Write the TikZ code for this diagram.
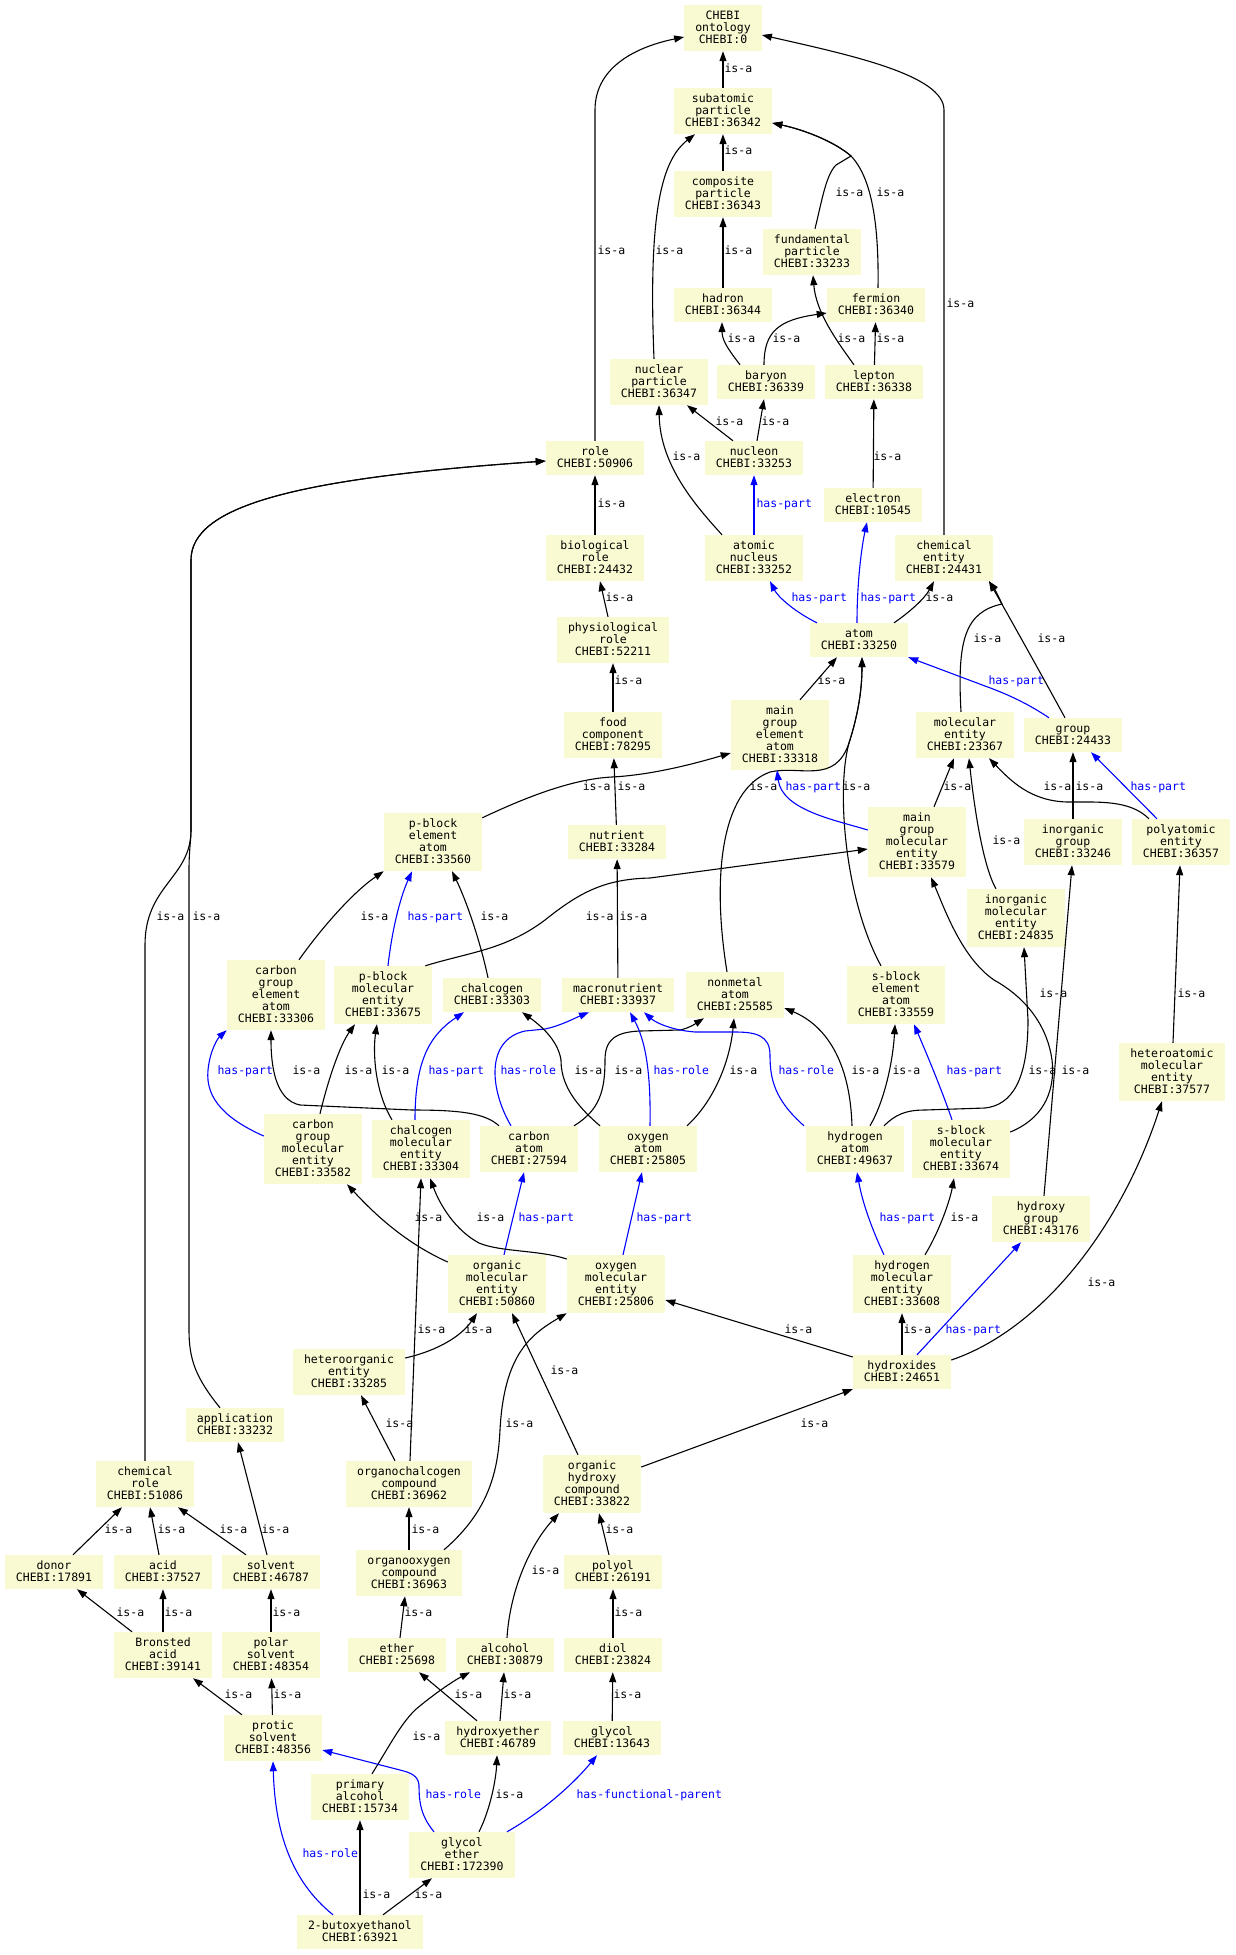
\documentclass[tikz,border=0pt]{standalone}
\usepackage{fontspec}
\setmonofont{DejaVu Sans Mono}
\usetikzlibrary{arrows.meta}
\definecolor{boxfill}{RGB}{250,250,210}
\definecolor{relblue}{RGB}{0,0,255}
% keeps every box 12pt per line, whatever the letters
\newcommand{\lnstrut}{\rule[-3pt]{0pt}{12pt}}
\newcommand{\ent}[1]{\lnstrut#1\lnstrut}

\begin{document}
\begin{tikzpicture}[
    x=1pt, y=-1pt,
    box/.style={fill=boxfill, inner xsep=11pt, inner ysep=5pt, align=center, font=\ttfamily\fontsize{11.5}{12}\selectfont},
    arr/.style={-{Triangle[length=10pt,width=7pt]}, line width=1.1pt},
    barr/.style={arr, draw=relblue},
    lab/.style={font=\ttfamily\fontsize{11.5}{12}\selectfont, inner sep=0pt, anchor=west, text height=7pt, text depth=1pt},
    blab/.style={lab, text=relblue}
]
\useasboundingbox (0,0) rectangle (1236,1955);

% particles
\node[box] (ontology) at (723,28) {\ent{CHEBI\\ontology\\CHEBI:0}};
\node[box] (subatomic) at (723,111) {\ent{subatomic\\particle\\CHEBI:36342}};
\node[box] (composite) at (723,194) {\ent{composite\\particle\\CHEBI:36343}};
\node[box] (fundamental) at (812,252) {\ent{fundamental\\particle\\CHEBI:33233}};
\node[box] (hadron) at (723,305) {\ent{hadron\\CHEBI:36344}};
\node[box] (fermion) at (876,305) {\ent{fermion\\CHEBI:36340}};
\node[box] (nuclearpart) at (659,382) {\ent{nuclear\\particle\\CHEBI:36347}};
\node[box] (baryon) at (766,382) {\ent{baryon\\CHEBI:36339}};
\node[box] (lepton) at (874,382) {\ent{lepton\\CHEBI:36338}};
\node[box] (role) at (595,458) {\ent{role\\CHEBI:50906}};
\node[box] (nucleon) at (754,458) {\ent{nucleon\\CHEBI:33253}};
\node[box] (electron) at (873,505) {\ent{electron\\CHEBI:10545}};
\node[box] (biorole) at (595,558) {\ent{biological\\role\\CHEBI:24432}};
\node[box] (nucleus) at (754,558) {\ent{atomic\\nucleus\\CHEBI:33252}};
\node[box] (chementity) at (944,558) {\ent{chemical\\entity\\CHEBI:24431}};
\node[box] (physrole) at (613,640) {\ent{physiological\\role\\CHEBI:52211}};
\node[box] (atom) at (859,640) {\ent{atom\\CHEBI:33250}};
\node[box] (foodcomp) at (613,735) {\ent{food\\component\\CHEBI:78295}};
\node[box] (mgatom) at (780,735) {\ent{main\\group\\element\\atom\\CHEBI:33318}};
\node[box] (molentity) at (965,735) {\ent{molecular\\entity\\CHEBI:23367}};
\node[box] (group) at (1073,735) {\ent{group\\CHEBI:24433}};

% entities
\node[box] (pblockatom) at (433,842) {\ent{p-block\\element\\atom\\CHEBI:33560}};
\node[box] (nutrient) at (617,842) {\ent{nutrient\\CHEBI:33284}};
\node[box] (mgmol) at (917,842) {\ent{main\\group\\molecular\\entity\\CHEBI:33579}};
\node[box] (inorggroup) at (1073,842) {\ent{inorganic\\group\\CHEBI:33246}};
\node[box] (polyatomic) at (1181,842) {\ent{polyatomic\\entity\\CHEBI:36357}};
\node[box] (inorgmol) at (1016,918) {\ent{inorganic\\molecular\\entity\\CHEBI:24835}};
\node[box] (cgatom) at (276,995) {\ent{carbon\\group\\element\\atom\\CHEBI:33306}};
\node[box] (pblockmol) at (383,995) {\ent{p-block\\molecular\\entity\\CHEBI:33675}};
\node[box] (chalcogen) at (492,995) {\ent{chalcogen\\CHEBI:33303}};
\node[box] (macronut) at (618,995) {\ent{macronutrient\\CHEBI:33937}};
\node[box] (nonmetal) at (735,995) {\ent{nonmetal\\atom\\CHEBI:25585}};
\node[box] (sblockatom) at (896,995) {\ent{s-block\\element\\atom\\CHEBI:33559}};
\node[box] (heteroatomic) at (1172,1072) {\ent{heteroatomic\\molecular\\entity\\CHEBI:37577}};
\node[box] (cgmol) at (313,1149) {\ent{carbon\\group\\molecular\\entity\\CHEBI:33582}};
\node[box] (chalcmol) at (421,1149) {\ent{chalcogen\\molecular\\entity\\CHEBI:33304}};
\node[box] (catom) at (529,1149) {\ent{carbon\\atom\\CHEBI:27594}};
\node[box] (oatom) at (648,1149) {\ent{oxygen\\atom\\CHEBI:25805}};
\node[box] (hatom) at (855,1149) {\ent{hydrogen\\atom\\CHEBI:49637}};
\node[box] (sblockmol) at (961,1149) {\ent{s-block\\molecular\\entity\\CHEBI:33674}};
\node[box] (hydroxygrp) at (1041,1219) {\ent{hydroxy\\group\\CHEBI:43176}};
\node[box] (orgmol) at (497,1284) {\ent{organic\\molecular\\entity\\CHEBI:50860}};
\node[box] (oxmol) at (616,1284) {\ent{oxygen\\molecular\\entity\\CHEBI:25806}};
\node[box] (hmol) at (902,1284) {\ent{hydrogen\\molecular\\entity\\CHEBI:33608}};
\node[box] (heteroorg) at (349,1372) {\ent{heteroorganic\\entity\\CHEBI:33285}};
\node[box] (hydroxides) at (902,1372) {\ent{hydroxides\\CHEBI:24651}};

% roles and compounds
\node[box] (application) at (235,1425) {\ent{application\\CHEBI:33232}};
\node[box] (chemrole) at (145,1484) {\ent{chemical\\role\\CHEBI:51086}};
\node[box] (orgchalc) at (409,1484) {\ent{organochalcogen\\compound\\CHEBI:36962}};
\node[box] (orghydroxy) at (592,1484) {\ent{organic\\hydroxy\\compound\\CHEBI:33822}};
\node[box] (donor) at (54,1572) {\ent{donor\\CHEBI:17891}};
\node[box] (acid) at (163,1572) {\ent{acid\\CHEBI:37527}};
\node[box] (solvent) at (271,1572) {\ent{solvent\\CHEBI:46787}};
\node[box] (orgoxy) at (409,1573) {\ent{organooxygen\\compound\\CHEBI:36963}};
\node[box] (polyol) at (613,1572) {\ent{polyol\\CHEBI:26191}};
\node[box] (bronsted) at (163,1655) {\ent{Bronsted\\acid\\CHEBI:39141}};
\node[box] (polarsolv) at (271,1655) {\ent{polar\\solvent\\CHEBI:48354}};
\node[box] (ether) at (397,1655) {\ent{ether\\CHEBI:25698}};
\node[box] (alcohol) at (505,1655) {\ent{alcohol\\CHEBI:30879}};
\node[box] (diol) at (613,1655) {\ent{diol\\CHEBI:23824}};
\node[box] (proticsolv) at (273,1738) {\ent{protic\\solvent\\CHEBI:48356}};
\node[box] (hydroxyether) at (498,1738) {\ent{hydroxyether\\CHEBI:46789}};
\node[box] (glycol) at (612,1738) {\ent{glycol\\CHEBI:13643}};
\node[box] (primalc) at (360,1797) {\ent{primary\\alcohol\\CHEBI:15734}};
\node[box] (glycolether) at (462,1855) {\ent{glycol\\ether\\CHEBI:172390}};
\node[box] (butoxy) at (360,1932) {\ent{2-butoxyethanol\\CHEBI:63921}};

% particle edges
\draw[arr] (subatomic) -- (ontology) node[lab] at (724,69) {is-a};
\draw[arr] (composite) -- (subatomic) node[lab] at (724,151) {is-a};
\draw[arr] (hadron) -- (composite) node[lab] at (724,251) {is-a};
\draw[arr] (role) -- (595,110) .. controls (595,65) and (640,46) .. ([yshift=-9pt]ontology.west) node[lab] at (597,251) {is-a};
\draw[arr] ([xshift=-5pt]nuclearpart.north) .. controls (648,210) and (662,160) .. ([xshift=-28pt]subatomic.south) node[lab] at (655,251) {is-a};
\draw[arr] ([xshift=3pt]fundamental.north) .. controls (822,200) and (826,175) .. (836,165) -- (851,156) .. controls (835,142) and (805,130) .. ([yshift=-12pt]subatomic.east) node[lab] at (835,193) {is-a};
\draw[arr] ([xshift=2pt]fermion.north) .. controls (879,225) and (872,178) .. (851,156) .. controls (835,142) and (805,130) .. ([yshift=-12pt]subatomic.east) node[lab] at (876,193) {is-a};
\draw[arr] ([xshift=-26pt]baryon.north) .. controls (732,354) and (722,342) .. ([xshift=-1pt]hadron.south) node[lab] at (727,339) {is-a};
\draw[arr] ([xshift=-2pt]baryon.north) .. controls (764,332) and (778,320) .. ([yshift=-8pt]fermion.west) node[lab] at (772,339) {is-a};
\draw[arr] ([xshift=-20pt]lepton.north) .. controls (836,340) and (816,312) .. ([xshift=1pt]fundamental.south) node[lab] at (837,339) {is-a};
\draw[arr] (lepton) -- (fermion) node[lab] at (876,339) {is-a};
\draw[arr] ([xshift=-21pt]nucleon.north) -- ([xshift=28pt]nuclearpart.south) node[lab] at (715,422) {is-a};
\draw[arr] ([xshift=3pt]nucleon.north) -- ([xshift=-2pt]baryon.south) node[lab] at (761,422) {is-a};
\draw[arr] (electron) -- (lepton) node[lab] at (873,457) {is-a};
\draw[arr] ([xshift=-32pt]nucleus.north) .. controls (695,505) and (660,465) .. (nuclearpart.south) node[lab] at (672,457) {is-a};
\draw[barr] (nucleus) -- (nucleon) node[blab] at (756,504) {has-part};

% role edges
\draw[arr] (biorole) -- (role) node[lab] at (597,504) {is-a};
\draw[arr] ([xshift=-5pt]physrole.north) -- ([xshift=5pt]biorole.south) node[lab] at (605,598) {is-a};
\draw[arr] (foodcomp) -- (physrole) node[lab] at (614,681) {is-a};
\draw[arr] (nutrient) -- (foodcomp) node[lab] at (617,787) {is-a};
\draw[arr] (macronut) -- (nutrient) node[lab] at (619,917) {is-a};
\draw[arr] (chemrole.north) -- (145,945) .. controls (145,885) and (191,878) .. (191,830) -- (191,560) .. controls (191,505) and (300,478) .. ([yshift=-3pt]role.west) node[lab] at (156,917) {is-a};
\draw[arr] ([xshift=-15pt]application.north) .. controls (196,1378) and (189,1360) .. (189,1330) -- (189,870) .. controls (189,850) and (191,840) .. (191,830) -- (191,560) .. controls (191,505) and (300,478) .. ([yshift=-3pt]role.west) node[lab] at (192,917) {is-a};

% atom edges
\draw[arr] ([yshift=-5pt]pblockatom.north east) .. controls (520,800) and (570,779) .. (612,777) .. controls (650,775) and (690,765) .. ([yshift=-18pt]mgatom.west) node[lab, anchor=east] at (611,787) {is-a};
\draw[arr] ([xshift=20pt]mgatom.north) -- ([xshift=-22pt]atom.south) node[lab] at (817,681) {is-a};
\draw[arr] ([xshift=-8pt]nonmetal.north) .. controls (712,880) and (720,790) .. (770,772) .. controls (800,765) and (835,785) .. (849,743) .. controls (858,715) and (862,690) .. ([xshift=3pt]atom.south) node[lab] at (749,787) {is-a};
\draw[arr] ([xshift=-15pt]sblockatom.north) .. controls (845,900) and (836,790) .. (849,743) .. controls (858,715) and (862,690) .. ([xshift=3pt]atom.south) node[lab] at (842,787) {is-a};
\draw[barr] ([xshift=-42pt]atom.north) .. controls (795,612) and (778,597) .. ([xshift=16pt]nucleus.south) node[blab] at (791,598) {has-part};
\draw[barr] ([xshift=-2pt]atom.north) .. controls (857,580) and (862,545) .. ([xshift=-6pt]electron.south) node[blab] at (860,598) {has-part};
\draw[arr] ([xshift=35pt]atom.north) .. controls (910,612) and (925,598) .. ([xshift=-10pt]chementity.south) node[lab] at (925,598) {is-a};
\draw[arr] (chementity.north) -- (944,110) .. controls (944,75) and (850,55) .. ([yshift=-7pt]ontology.east) node[lab] at (946,304) {is-a};
\draw[arr] ([xshift=-4pt]molentity.north) .. controls (957,640) and (965,612) .. (1002,604) .. controls (998,595) and (994,588) .. ([xshift=45pt]chementity.south) node[lab] at (973,639) {is-a};
\draw[arr] ([xshift=-8pt]group.north) .. controls (1040,672) and (1012,622) .. ([xshift=45pt]chementity.south) node[lab] at (1037,639) {is-a};
\draw[barr] ([xshift=-24pt]group.north) .. controls (1030,705) and (1010,695) .. (985,686) -- (atom.south east) node[blab] at (988,681) {has-part};
\draw[arr] ([xshift=17pt]mgmol.north) -- ([xshift=-11pt]molentity.south) node[lab] at (943,787) {is-a};
\draw[arr] ([xshift=-20pt]inorgmol.north) .. controls (984,868) and (975,815) .. ([xshift=4pt]molentity.south) node[lab] at (992,841) {is-a};
\draw[arr] ([xshift=-32pt]polyatomic.north) .. controls (1130,800) and (1100,802) .. (1067,802) .. controls (1030,801) and (1010,780) .. ([xshift=24pt]molentity.south) node[lab] at (1043,787) {is-a};
\draw[arr] (inorggroup) -- (group) node[lab] at (1075,787) {is-a};
\draw[barr] ([xshift=-24pt]polyatomic.north) -- ([xshift=18pt]group.south) node[blab] at (1130,787) {has-part};
\draw[barr] ([yshift=12pt]mgmol.west) .. controls (835,820) and (782,810) .. ([xshift=-3pt]mgatom.south) node[blab] at (785,787) {has-part};
\draw[arr] ([xshift=-7pt]pblockmol.north east) .. controls (470,952) and (505,950) .. (545,920) .. controls (580,892) and (605,879) .. (650,878) -- ([yshift=-7pt]mgmol.west) node[lab, anchor=east] at (614,917) {is-a};
\draw[arr] ([xshift=-3pt]hatom.north) .. controls (850,1060) and (825,1025) .. ([yshift=-13pt]nonmetal.east) node[lab] at (851,1071) {is-a};
\draw[arr] ([xshift=15pt]hatom.north) .. controls (885,1100) and (893,1060) .. ([xshift=-1pt]sblockatom.south) node[lab] at (892,1071) {is-a};
\draw[barr] ([xshift=-9pt]sblockmol.north) .. controls (940,1085) and (925,1050) .. ([xshift=18pt]sblockatom.south) node[blab] at (946,1071) {has-part};
\draw[arr] ([xshift=29pt]hatom.north) .. controls (895,1115) and (905,1110) .. (925,1110) -- (985,1108) .. controls (1012,1105) and (1028,1080) .. (1028,1020) -- ([xshift=8pt]inorgmol.south) node[lab] at (1039,994) {is-a};
\draw[arr] ([yshift=17pt]sblockmol.east) .. controls (1040,1120) and (1056,1095) .. (1052,1060) .. controls (1048,1030) and (1030,1000) .. (994,980) .. controls (962,958) and (945,910) .. ([xshift=14pt]mgmol.south) node[lab] at (1028,1071) {is-a};
\draw[arr] ([xshift=3pt]hydroxygrp.north) -- ([xshift=-1pt]inorggroup.south) node[lab] at (1061,1071) {is-a};
\draw[arr] ([xshift=1pt]heteroatomic.north) -- ([xshift=-1pt]polyatomic.south) node[lab] at (1177,994) {is-a};

% p-block, carbon and chalcogen edges
\draw[arr] ([xshift=23pt]cgatom.north) .. controls (320,930) and (352,893) .. (pblockatom.south west) node[lab] at (360,917) {is-a};
\draw[barr] ([xshift=5pt]pblockmol.north) .. controls (392,930) and (400,898) .. ([xshift=-21pt]pblockatom.south) node[blab] at (407,917) {has-part};
\draw[arr] ([xshift=-4pt]chalcogen.north) .. controls (480,940) and (466,900) .. ([xshift=19pt]pblockatom.south) node[lab] at (480,917) {is-a};
\draw[arr] ([xshift=-30pt]catom.north) .. controls (485,1113) and (460,1110) .. (412,1110) -- (300,1105) .. controls (275,1100) and (271,1065) .. ([xshift=-5pt]cgatom.south) node[lab] at (292,1071) {is-a};
\draw[arr] ([xshift=7pt]cgmol.north) .. controls (328,1080) and (340,1045) .. ([xshift=-28pt]pblockmol.south) node[lab] at (344,1071) {is-a};
\draw[arr] ([xshift=-29pt]chalcmol.north) .. controls (374,1090) and (373,1050) .. ([xshift=-6pt]pblockmol.south) node[lab] at (381,1071) {is-a};
\draw[barr] ([yshift=13pt]cgmol.west) .. controls (228,1120) and (205,1100) .. (208,1070) .. controls (210,1050) and (218,1038) .. (cgatom.south west) node[blab] at (217,1071) {has-part};
\draw[barr] ([xshift=-6pt]chalcmol.north) .. controls (415,1060) and (430,1035) .. ([xshift=-28pt]chalcogen.south) node[blab] at (428,1071) {has-part};
\draw[barr] ([xshift=-18pt]catom.north) .. controls (490,1090) and (485,1040) .. (525,1031) -- (545,1029) .. controls (560,1026) and (575,1018) .. ([xshift=-29pt]macronut.south) node[blab] at (500,1071) {has-role};
\draw[arr] ([xshift=-48pt]oatom.north) .. controls (572,1102) and (561,1082) .. (561,1060) .. controls (558,1040) and (540,1025) .. ([xshift=30pt]chalcogen.south) node[lab] at (574,1071) {is-a};
\draw[arr] ([xshift=45pt]catom.north) .. controls (600,1110) and (605,1090) .. (605,1060) .. controls (605,1040) and (615,1032) .. (640,1031) -- (680,1030) .. controls (690,1028) and (698,1022) .. ([xshift=-31pt]nonmetal.south) node[lab] at (614,1071) {is-a};
\draw[barr] ([xshift=2pt]oatom.north) .. controls (651,1070) and (645,1040) .. ([xshift=12pt]macronut.south) node[blab] at (653,1071) {has-role};
\draw[arr] ([xshift=39pt]oatom.north) .. controls (715,1100) and (730,1060) .. ([xshift=-1pt]nonmetal.south) node[lab] at (729,1071) {is-a};
\draw[barr] ([xshift=-51pt]hatom.north) .. controls (775,1100) and (770,1080) .. (770,1055) .. controls (770,1035) and (755,1032) .. (735,1032) -- (695,1032) .. controls (670,1030) and (655,1022) .. ([xshift=26pt]macronut.south) node[blab] at (778,1071) {has-role};

% molecular entity edges
\draw[barr] ([xshift=7pt]orgmol.north) -- ([xshift=-5pt]catom.south) node[blab] at (518,1218) {has-part};
\draw[arr] ([yshift=22pt]orgmol.west) .. controls (410,1245) and (380,1220) .. ([xshift=34pt]cgmol.south) node[lab] at (414,1218) {is-a};
\draw[arr] ([yshift=25pt]oxmol.west) .. controls (540,1250) and (500,1252) .. (479,1243) .. controls (455,1230) and (440,1205) .. ([xshift=9pt]chalcmol.south) node[lab] at (476,1218) {is-a};
\draw[barr] ([xshift=7pt]oxmol.north) -- ([xshift=-6pt]oatom.south) node[blab] at (636,1218) {has-part};
\draw[barr] ([xshift=-18pt]hmol.north) .. controls (870,1225) and (862,1200) .. ([xshift=2pt]hatom.south) node[blab] at (879,1218) {has-part};
\draw[arr] ([xshift=23pt]hmol.north) .. controls (940,1230) and (950,1200) .. ([xshift=-7pt]sblockmol.south) node[lab] at (950,1218) {is-a};
\draw[arr] (hydroxides) -- (hmol) node[lab] at (903,1330) {is-a};
\draw[barr] ([xshift=15pt]hydroxides.north) -- ([xshift=-20pt]hydroxygrp.south) node[blab] at (945,1330) {has-part};
\draw[arr] ([yshift=12pt]hydroxides.east) .. controls (1040,1330) and (1120,1230) .. ([xshift=-10pt]heteroatomic.south) node[lab] at (1087,1283) {is-a};
\draw[arr] ([yshift=15pt]hydroxides.west) -- ([yshift=-16pt]oxmol.east) node[lab] at (784,1330) {is-a};
\draw[arr] ([yshift=17pt]orghydroxy.east) -- (hydroxides.south west) node[lab] at (800,1424) {is-a};
\draw[arr] ([xshift=-14pt]orghydroxy.north) -- ([xshift=15pt]orgmol.south) node[lab] at (550,1371) {is-a};
\draw[arr] ([xshift=35pt]orgoxy.north) .. controls (490,1510) and (498,1470) .. (500,1430) .. controls (504,1355) and (530,1335) .. (oxmol.south west) node[lab] at (505,1424) {is-a};
\draw[arr] ([yshift=14pt]heteroorg.east) .. controls (440,1350) and (462,1335) .. ([xshift=-20pt]orgmol.south) node[lab] at (464,1330) {is-a};
\draw[arr] ([xshift=1pt]orgchalc.north) -- (chalcmol.south) node[lab] at (417,1330) {is-a};
\draw[arr] ([xshift=-14pt]orgchalc.north) -- ([xshift=12pt]heteroorg.south) node[lab] at (385,1424) {is-a};

% compound and role edges
\draw[arr] (orgoxy) -- (orgchalc) node[lab] at (411,1530) {is-a};
\draw[arr] ([xshift=3pt]ether.north) -- ([xshift=-4pt]orgoxy.south) node[lab] at (404,1613) {is-a};
\draw[arr] ([xshift=2pt]alcohol.north) .. controls (510,1590) and (530,1545) .. ([xshift=-33pt]orghydroxy.south) node[lab] at (531,1571) {is-a};
\draw[arr] ([xshift=-4pt]polyol.north) -- ([xshift=7pt]orghydroxy.south) node[lab] at (605,1530) {is-a};
\draw[arr] (diol) -- (polyol) node[lab] at (614,1613) {is-a};
\draw[arr] (glycol) -- (diol) node[lab] at (613,1695) {is-a};
\draw[arr] ([xshift=2pt]hydroxyether.north) -- ([xshift=-1pt]alcohol.south) node[lab] at (503,1695) {is-a};
\draw[arr] ([xshift=-21pt]hydroxyether.north) -- ([xshift=22pt]ether.south) node[lab] at (454,1695) {is-a};
\draw[arr] ([xshift=12pt]primalc.north) .. controls (390,1745) and (400,1725) .. (415,1710) .. controls (435,1693) and (455,1680) .. ([xshift=-35pt]alcohol.south) node[lab] at (412,1737) {is-a};
\draw[arr] ([xshift=17pt]glycolether.north) .. controls (490,1810) and (496,1780) .. ([xshift=-1pt]hydroxyether.south) node[lab] at (495,1795) {is-a};
\draw[barr] ([xshift=45pt]glycolether.north) .. controls (545,1810) and (575,1782) .. ([xshift=-15pt]glycol.south) node[blab] at (576,1795) {has-functional-parent};
\draw[barr] ([xshift=-28pt]glycolether.north) .. controls (420,1815) and (419,1800) .. (419,1785) .. controls (418,1776) and (412,1773) .. (400,1770) -- ([yshift=-12pt]proticsolv.east) node[blab] at (425,1795) {has-role};
\draw[barr] ([xshift=-27pt]butoxy.north) .. controls (290,1880) and (275,1830) .. (proticsolv.south) node[blab] at (302,1854) {has-role};
\draw[arr] (butoxy) -- (primalc) node[lab] at (362,1895) {is-a};
\draw[arr] ([xshift=23pt]butoxy.north) -- ([xshift=-30pt]glycolether.south) node[lab] at (414,1895) {is-a};
\draw[arr] ([xshift=19pt]donor.north) -- ([xshift=-23pt]chemrole.south) node[lab] at (104,1530) {is-a};
\draw[arr] ([xshift=-4pt]acid.north) -- ([xshift=5pt]chemrole.south) node[lab] at (157,1530) {is-a};
\draw[arr] ([xshift=-25pt]solvent.north) -- ([xshift=33pt]chemrole.south) node[lab] at (219,1530) {is-a};
\draw[arr] ([xshift=-4pt]solvent.north) -- ([xshift=3pt]application.south) node[lab] at (261,1530) {is-a};
\draw[arr] ([xshift=-31pt]bronsted.north) -- ([xshift=23pt]donor.south) node[lab] at (116,1613) {is-a};
\draw[arr] (bronsted) -- (acid) node[lab] at (164,1613) {is-a};
\draw[arr] (polarsolv) -- (solvent) node[lab] at (272,1613) {is-a};
\draw[arr] ([xshift=-31pt]proticsolv.north) -- ([xshift=30pt]bronsted.south) node[lab] at (224,1695) {is-a};
\draw[arr] (proticsolv) -- (polarsolv) node[lab] at (273,1695) {is-a};
\end{tikzpicture}
\end{document}
